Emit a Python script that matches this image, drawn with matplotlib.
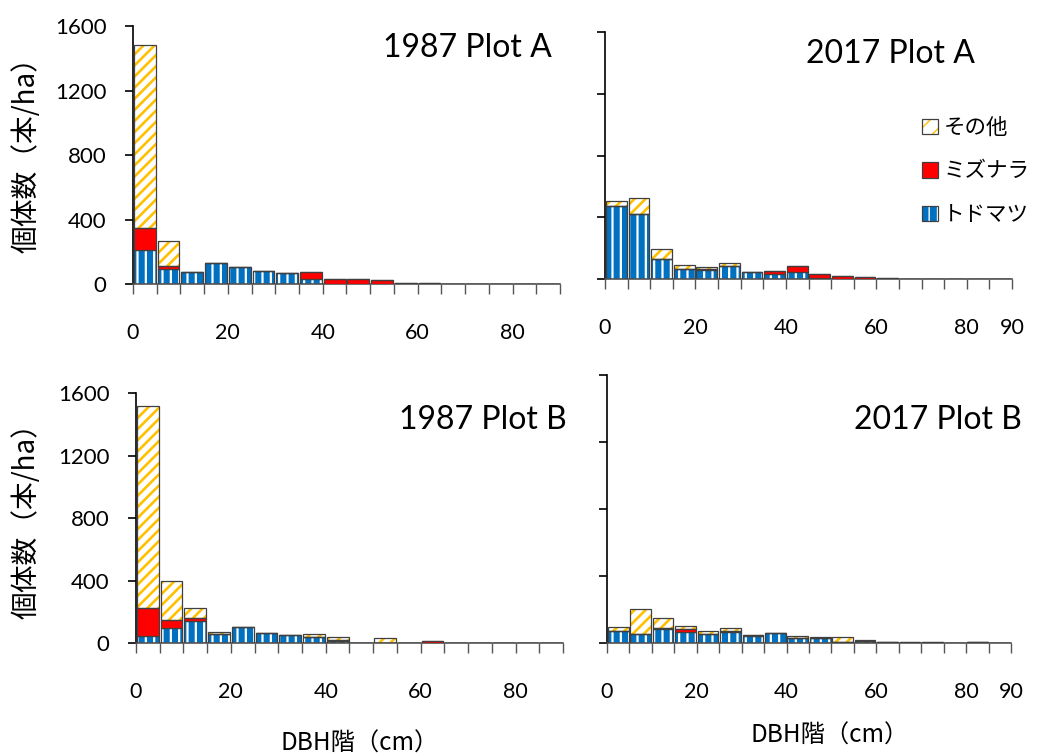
import matplotlib
matplotlib.use("Agg")
import matplotlib.pyplot as plt
from matplotlib.patches import Patch

# ---------------- data ----------------
dbh_class = [2.5, 7.5, 12.5, 17.5, 22.5, 27.5, 32.5, 37.5, 42.5,
             47.5, 52.5, 57.5, 62.5, 67.5, 72.5, 77.5, 82.5, 87.5]

a1987_todomatsu = [209, 93, 72, 130, 108, 78, 70, 33, 0, 0, 0, 0, 0, 0, 0, 0, 0, 0]
a1987_mizunara = [141, 19, 0, 0, 0, 0, 0, 41, 31, 31, 27, 8, 4, 0, 0, 0, 0, 0]
a1987_other = [1132, 153, 5, 0, 0, 5, 0, 0, 0, 0, 0, 0, 0, 0, 0, 0, 0, 0]

a2017_todomatsu = [475, 423, 134, 67, 60, 88, 50, 34, 47, 5, 0, 0, 0, 0, 0, 0, 0, 0]
a2017_mizunara = [0, 0, 0, 0, 5, 0, 0, 20, 39, 27, 19, 15, 8, 2, 0, 0, 0, 0]
a2017_other = [32, 101, 60, 26, 13, 15, 0, 0, 0, 0, 0, 0, 0, 0, 0, 0, 0, 0]

b1987_todomatsu = [49, 100, 145, 58, 102, 64, 50, 43, 17, 4, 0, 0, 0, 0, 3, 0, 0, 0]
b1987_mizunara = [177, 49, 15, 0, 0, 0, 0, 0, 6, 0, 0, 0, 15, 0, 0, 0, 0, 0]
b1987_other = [1293, 248, 64, 17, 0, 0, 0, 15, 20, 0, 34, 0, 0, 0, 0, 0, 0, 0]

b2017_todomatsu = [68, 50, 84, 62, 54, 62, 40, 56, 26, 26, 3, 10, 6, 0, 0, 0, 2, 0]
b2017_mizunara = [0, 0, 6, 20, 0, 5, 4, 0, 0, 0, 0, 0, 0, 6, 6, 0, 0, 0]
b2017_other = [24, 149, 55, 16, 16, 19, 0, 0, 16, 10, 28, 8, 0, 0, 0, 0, 0, 0]

panel_titles = ["1987 Plot A", "2017 Plot A", "1987 Plot B", "2017 Plot B"]
species_labels = ["トドマツ", "ミズナラ", "その他"]
y_ticks = [0, 400, 800, 1200, 1600]
ylabel_text = "個体数（本/ha）"
xlabel_text = "DBH階（cm）"

# ---------------- style ----------------
BLUE = "#0070C0"
RED = "#FF0000"
YELLOW = "#FFC000"
EDGE = "#404040"
LATIN = ["Lato", "DejaVu Sans"]
JP = ["Noto Sans CJK JP", "DejaVu Sans"]
BLUE_HATCH, BLUE_HLW = "||", 1.6
OTHER_HATCH, OTHER_HLW = "///", 1.9

plt.rcParams["font.family"] = LATIN

fig = plt.figure(figsize=(10.38, 7.56), dpi=100)

# [left, bottom, width, height] in figure fraction
positions = [
    [0.1281, 0.6243, 0.4114, 0.3413],
    [0.5829, 0.6306, 0.3921, 0.3271],
    [0.1310, 0.1491, 0.4114, 0.3307],
    [0.5848, 0.1499, 0.3892, 0.3541],
]
title_pos = [(0.981, 0.915), (0.909, 0.911), (1.009, 0.893), (1.027, 0.832)]

panels = [
    (a1987_todomatsu, a1987_mizunara, a1987_other),
    (a2017_todomatsu, a2017_mizunara, a2017_other),
    (b1987_todomatsu, b1987_mizunara, b1987_other),
    (b2017_todomatsu, b2017_mizunara, b2017_other),
]

BAR_W = 4.6


def set_hlw(artists, lw):
    for a in artists:
        if hasattr(a, "set_hatch_linewidth"):
            a.set_hatch_linewidth(lw)


def hatched_bar(ax, x, h, bottom, face, hcolor, hatch, hlw):
    with plt.rc_context({"hatch.linewidth": hlw}):
        bars = ax.bar(x, h, bottom=bottom, width=BAR_W, color=face,
                      edgecolor=hcolor, hatch=hatch, linewidth=0, zorder=2)
    set_hlw(bars, hlw)
    ax.bar(x, h, bottom=bottom, width=BAR_W, fill=False,
           edgecolor=EDGE, linewidth=0.9, zorder=3)
    return bars


for i, (ax_pos, data) in enumerate(zip(positions, panels)):
    ax = fig.add_axes(ax_pos)
    todo, mizu, other = data
    bot2 = [t + m for t, m in zip(todo, mizu)]
    hatched_bar(ax, dbh_class, todo, 0, BLUE, "white", BLUE_HATCH, BLUE_HLW)
    ax.bar(dbh_class, mizu, bottom=todo, width=BAR_W, color=RED,
           edgecolor=EDGE, linewidth=0.9, zorder=3)
    hatched_bar(ax, dbh_class, other, bot2, "white", YELLOW, OTHER_HATCH, OTHER_HLW)

    ax.set_xlim(0, 90)
    ax.set_ylim(0, 1600)
    for s in ["top", "right"]:
        ax.spines[s].set_visible(False)
    ax.spines["left"].set_color("black")
    ax.spines["left"].set_linewidth(1.2)
    ax.spines["bottom"].set_color("#555555")
    ax.spines["bottom"].set_linewidth(1.2)

    right_col = i in (1, 3)
    xt = [0, 20, 40, 60, 80, 90] if right_col else [0, 20, 40, 60, 80]
    ax.set_xticks(xt)
    ax.set_xticklabels([str(v) for v in xt])
    ax.set_xticks([v for v in range(0, 95, 5) if v not in xt], minor=True)
    ax.tick_params(axis="x", which="both", direction="out", length=7,
                   width=1.0, color="#555555", pad=21, labelsize=15.5)
    ax.set_yticks(y_ticks)
    if right_col:
        ax.set_yticklabels([])
    else:
        ax.set_yticklabels([str(v) for v in y_ticks])
    ax.tick_params(axis="y", direction="out", length=6, width=1.2,
                   color="black", pad=13, labelsize=16)

    tx, ty = title_pos[i]
    ax.text(tx, ty, panel_titles[i], transform=ax.transAxes, ha="right",
            va="center", fontsize=23, family=LATIN, clip_on=False)

    if i == 1:
        def hatched_handle(face, hcolor, hatch, hlw):
            with plt.rc_context({"hatch.linewidth": hlw}):
                p = Patch(facecolor=face, edgecolor=hcolor, hatch=hatch, linewidth=0)
            set_hlw([p], hlw)
            return (p, Patch(fill=False, edgecolor=EDGE, linewidth=0.9))

        handles = [
            hatched_handle("white", YELLOW, "//", OTHER_HLW),
            Patch(facecolor=RED, edgecolor=EDGE, linewidth=0.9),
            hatched_handle(BLUE, "white", BLUE_HATCH, BLUE_HLW),
        ]
        ax.legend(handles, [species_labels[2], species_labels[1], species_labels[0]],
                  loc="upper left", bbox_to_anchor=(0.752, 0.70),
                  frameon=False, borderpad=0, handlelength=0.75,
                  handleheight=0.75, handletextpad=0.25, labelspacing=1.0,
                  prop={"family": JP, "size": 15.5})

# axis labels
for yc in (148, 514):
    fig.text(27 / 1038, 1 - yc / 756, ylabel_text, rotation=90, ha="center",
             va="center", fontsize=20, family=JP)
fig.text(360 / 1038, 1 - 744 / 756, xlabel_text, ha="center", va="center",
         fontsize=17.5, family=JP)
fig.text(830 / 1038, 1 - 736 / 756, xlabel_text, ha="center", va="center",
         fontsize=17.5, family=JP)

fig.savefig("out.png", dpi=100)
